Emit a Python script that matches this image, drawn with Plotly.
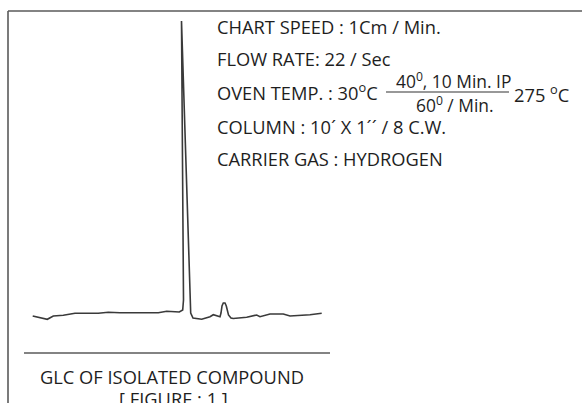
import plotly.graph_objects as go

W, H = 582, 403

# Chromatogram trace (retention position, detector signal above base)
retention = [0.7, 8, 15.3, 21.3, 31.3, 43, 66.3, 76.3, 88, 126.3, 134.7, 147.3, 150.7,
             151.5, 149.5, 158.7, 161, 169.7, 178, 181.3, 184.7, 188, 189, 190, 191.3,
             193, 194.3, 195.3, 196.5, 199, 201.3, 214.7, 224.7, 228, 238, 251.3, 258,
             278, 289.7]
signal = [2, 0.7, -1.3, 2, 2.7, 4.7, 4.7, 5.7, 5.3, 5.3, 6.7, 6, 8,
          18, 297, 5, 0, -1.3, 1.3, 3.3, 2, 1.3, 5, 12, 15,
          15, 12, 7, 3, 0, -0.5, 0.7, 3, 1.3, 4, 4, 2,
          3.3, 4.7]

info_lines = ["CHART SPEED : 1Cm / Min.", "FLOW RATE: 22 / Sec", "OVEN TEMP. : 30<sup>o</sup>C",
              "COLUMN : 10´ X 1´´ / 8 C.W.", "CARRIER GAS : HYDROGEN"]
info_y = [27, 58.7, 91, 126.5, 158.3]
numerator = "40<sup>0</sup>, 10 Min. IP"
denominator = "60<sup>0</sup> / Min."
final_temp = "275 <sup>o</sup>C"
caption = "GLC OF ISOLATED COMPOUND"
figure_label = "[ FIGURE : 1 ]"

FONT = "Open Sans"
FS = 18.3
FS_FRAC = 17.4
TXT = "#1e1e1e"
GRAY = "#5a5a5a"

def px(x):
    return x / W

def py(y):
    return 1 - y / H

fig = go.Figure()
fig.add_trace(go.Scatter(x=retention, y=signal, mode="lines",
                         line=dict(color="#3a3a3a", width=1.6), hoverinfo="skip"))

ann = []
for t, y in zip(info_lines, info_y):
    ann.append(dict(text=t, x=px(215), y=py(y), xanchor="left", yanchor="middle", size=FS))
ann.append(dict(text=numerator, x=px(453), y=py(80), xanchor="center", yanchor="middle", size=FS_FRAC))
ann.append(dict(text=denominator, x=px(455), y=py(104), xanchor="center", yanchor="middle", size=FS_FRAC))
ann.append(dict(text=final_temp, x=px(512), y=py(94), xanchor="left", yanchor="middle", size=FS))
ann.append(dict(text=caption, x=px(172), y=py(376.5), xanchor="center", yanchor="middle", size=FS))
ann.append(dict(text=figure_label, x=px(173.5), y=py(398), xanchor="center", yanchor="middle", size=FS))
for a in ann:
    s = a.pop("size")
    a.update(xref="paper", yref="paper", showarrow=False,
             font=dict(family=FONT, size=s, color=TXT))

shapes = [
    dict(type="line", xref="paper", yref="paper", x0=px(8), x1=px(8), y0=py(11), y1=py(403 + 5),
         line=dict(color=GRAY, width=1.6)),
    dict(type="line", xref="paper", yref="paper", x0=px(8), x1=px(582 + 5), y0=py(11), y1=py(11),
         line=dict(color=GRAY, width=1.6)),
    dict(type="line", xref="paper", yref="paper", x0=px(24), x1=px(330), y0=py(353), y1=py(353),
         line=dict(color=GRAY, width=1.6)),
    dict(type="line", xref="paper", yref="paper", x0=px(386), x1=px(509), y0=py(92), y1=py(92),
         line=dict(color="#333333", width=1.2)),
]

fig.update_layout(
    width=W, height=H, margin=dict(l=0, r=0, t=0, b=0),
    paper_bgcolor="white", plot_bgcolor="white", showlegend=False,
    xaxis=dict(range=[-32, 550], visible=False, fixedrange=True),
    yaxis=dict(range=[-85, 318], visible=False, fixedrange=True),
    annotations=ann, shapes=shapes,
)
fig.write_html("out.html", config={"displayModeBar": False})
